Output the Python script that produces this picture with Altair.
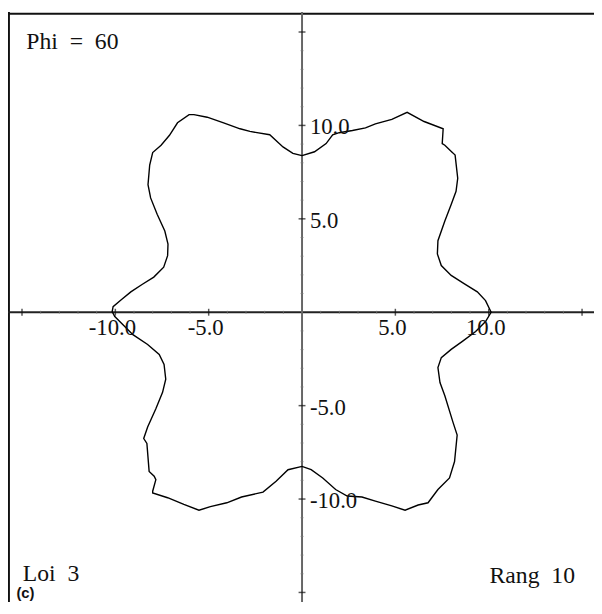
import altair as alt
import pandas as pd

# closed curve (counter-clockwise from the top of the y axis)
curve_x = [0.0, -0.49, -1.02, -1.73, -2.79, -3.32, -4.20, -5.08, -5.79, -6.05, -6.67, -7.10,
           -7.55, -8.00, -8.16, -8.25, -8.11, -7.76, -7.35, -7.18, -7.20, -7.41, -7.94, -8.55,
           -9.17, -9.70, -10.12, -10.17,
           -10.03, -9.59, -9.06, -8.27, -7.65, -7.39, -7.30, -7.47, -7.83, -8.27, -8.48, -8.31,
           -8.19, -7.92, -7.83, -8.00, -8.00, -7.20, -6.33, -5.52, -4.91, -4.03, -3.24, -2.09,
           -1.39, -0.75, 0.0,
           0.49, 1.11, 1.80, 2.42, 3.21, 3.93, 4.81, 5.52, 6.22, 6.75, 7.28, 7.90, 8.17, 8.31,
           8.08, 7.65, 7.39, 7.28, 7.46, 7.99, 8.59, 9.30, 9.83, 10.13,
           9.83, 9.39, 8.68, 7.99, 7.46, 7.25, 7.28, 7.65, 7.99, 8.25, 8.34, 8.20, 8.08, 7.65,
           7.51, 7.56, 6.54, 5.63, 4.81, 3.93, 3.40, 2.70, 1.99, 1.64, 1.29, 0.67, 0.0]
curve_y = [8.38, 8.50, 8.85, 9.50, 9.68, 9.82, 10.14, 10.44, 10.58, 10.58, 10.14, 9.47,
           8.94, 8.55, 7.88, 6.83, 6.12, 5.24, 4.35, 3.65, 3.03, 2.41, 1.88, 1.50,
           1.09, 0.65, 0.30, 0.03,
           -0.23, -0.67, -1.20, -1.73, -2.26, -2.79, -3.58, -4.29, -5.17, -6.14, -6.76, -7.02,
           -8.52, -8.78, -8.96, -9.58, -9.67, -9.93, -10.29, -10.60, -10.41, -10.20, -9.89, -9.63,
           -9.05, -8.43, -8.25,
           -8.43, -8.87, -9.49, -9.84, -9.89, -10.11, -10.37, -10.60, -10.32, -10.20, -9.49, -8.87, -7.99, -6.58,
           -5.87, -4.47, -3.76, -2.96, -2.43, -1.99, -1.56, -1.03, -0.50, 0.0,
           0.62, 1.09, 1.53, 1.97, 2.50, 3.12, 3.83, 4.88, 5.77, 6.47, 7.17, 8.41, 8.53, 8.94,
           9.03, 9.82, 10.21, 10.70, 10.32, 10.08, 9.87, 9.73, 9.61, 9.50, 9.03, 8.59, 8.38]

major_ticks = [-15, -10, -5, 5, 10, 15]
minor_ticks = [v for v in range(-15, 16) if v % 5 != 0]
label_values = [-10, -5, 5, 10]
label_texts = ["-10.0", "-5.0", "5.0", "10.0"]

NB = "\u00a0"
title_text = f"Phi{NB}{NB}={NB}{NB}60"
law_text = f"Loi{NB}{NB}3"
rank_text = f"Rang{NB}{NB}10"
panel_text = "(c)"

X_DOM = [-15.75, 15.64]
Y_DOM = [-15.51, 16.07]
FONT = "Liberation Serif"

xs = alt.Scale(domain=X_DOM, nice=False, zero=False)
ys = alt.Scale(domain=Y_DOM, nice=False, zero=False)

curve = pd.DataFrame({"x": curve_x, "y": curve_y, "i": list(range(len(curve_x)))})
zero = pd.DataFrame({"z": [0]})
frame = pd.DataFrame({"left": [-15.70], "top": [15.98]})
maj = pd.DataFrame({"v": major_ticks, "z": [0] * len(major_ticks)})
mnr = pd.DataFrame({"v": minor_ticks, "z": [0] * len(minor_ticks)})
lab = pd.DataFrame({"v": label_values, "t": label_texts, "z": [0] * len(label_values)})

X = lambda f: alt.X(f, type="quantitative", scale=xs, axis=None)
Y = lambda f: alt.Y(f, type="quantitative", scale=ys, axis=None)

left_border = alt.Chart(frame).mark_rule(color="#111", strokeWidth=2).encode(x=X("left"))
top_border = alt.Chart(frame).mark_rule(color="#111", strokeWidth=2).encode(y=Y("top"))

h_axis = alt.Chart(zero).mark_rule(color="#222", strokeWidth=2).encode(y=Y("z"))
v_axis = alt.Chart(zero).mark_rule(color="#666", strokeWidth=2).encode(x=X("z"))

x_major = alt.Chart(maj).mark_tick(orient="vertical", size=7, thickness=1.5, color="#111").encode(x=X("v"), y=Y("z"))
y_major = alt.Chart(maj).mark_tick(orient="horizontal", size=7, thickness=1.5, color="#111").encode(x=X("z"), y=Y("v"))
x_minor = alt.Chart(mnr).mark_tick(orient="vertical", size=3, thickness=1, color="#777").encode(x=X("v"), y=Y("z"))
y_minor = alt.Chart(mnr).mark_tick(orient="horizontal", size=3, thickness=1, color="#777").encode(x=X("z"), y=Y("v"))

x_labels = alt.Chart(lab).mark_text(font=FONT, fontSize=23, align="center", baseline="alphabetic",
                                    dx=-3, dy=23.5, color="#111").encode(x=X("v"), y=Y("z"), text="t:N")
y_labels = alt.Chart(lab).mark_text(font=FONT, fontSize=23, align="left", baseline="alphabetic",
                                    dx=8, dy=9, color="#111").encode(x=X("z"), y=Y("v"), text="t:N")

line = alt.Chart(curve).mark_line(color="#000", strokeWidth=1.4).encode(
    x=X("x"), y=Y("y"), order=alt.Order("i:Q"))

def note(txt, px, py, align="left", font=FONT, size=24, weight="normal"):
    return alt.Chart(pd.DataFrame({"t": [txt]})).mark_text(
        font=font, fontSize=size, fontWeight=weight, align=align, baseline="alphabetic", color="#111"
    ).encode(x=alt.value(px), y=alt.value(py), text="t:N")

chart = alt.layer(
    left_border, top_border, h_axis, v_axis, x_minor, y_minor, x_major, y_major,
    line, x_labels, y_labels,
    note(title_text, 18.5, 37.7),
    note(law_text, 15, 577),
    note(rank_text, 574.7, 578.5, align="right"),
    note(panel_text, 8.5, 593.5, font="Liberation Sans", size=15, weight="bold"),
).properties(
    width=594, height=598, padding=0,
    autosize=alt.AutoSizeParams(type="none"),
).configure_view(stroke=None)

chart.save("out.html", embed_options={"renderer": "svg", "actions": False})
